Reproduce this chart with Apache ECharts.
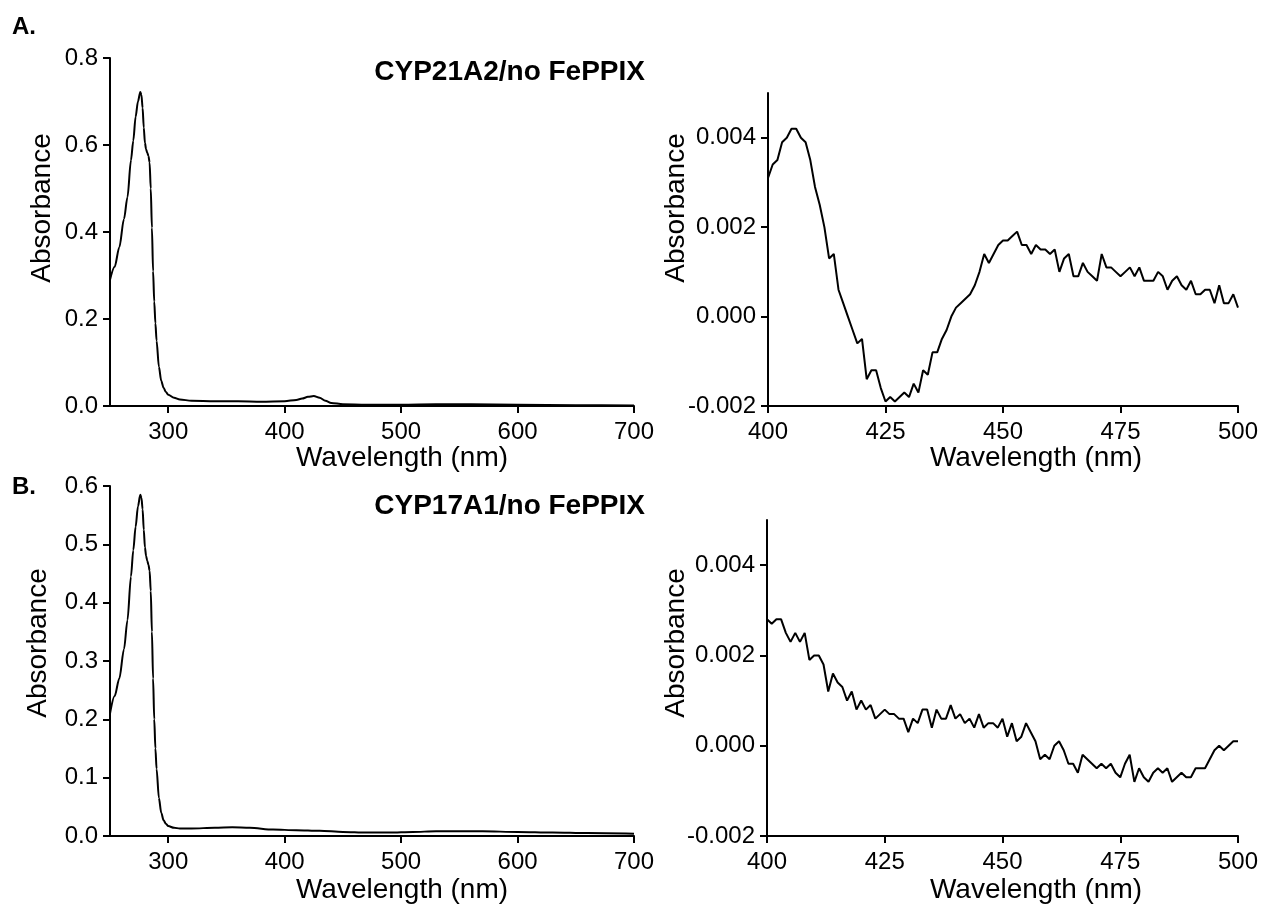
<!DOCTYPE html>
<html lang="en">
<head>
    <meta charset="UTF-8">
    <title>CYP spectra</title>
    <script src="https://cdn.jsdelivr.net/npm/echarts@6.0.0/dist/echarts.min.js"></script>
    <style>
        html, body { margin: 0; padding: 0; background: #fff; }
        #container { width: 1263px; height: 909px; }
    </style>
</head>
<body>
    <div id="container"></div>
    <script>
        // full spectra, panel A (CYP21A2) and panel B (CYP17A1)
        var wlA = [250, 254, 258, 262, 265, 268, 270, 272, 274, 276, 277, 278, 279, 280, 281, 282, 283, 284, 285, 286, 287, 288, 289, 290, 292, 294, 296, 298, 300, 305, 310, 320, 340, 360, 380, 400, 410, 415, 420, 425, 430, 435, 440, 450, 470, 500, 530, 560, 600, 650, 700];
        var absA = [0.29, 0.32, 0.365, 0.43, 0.48, 0.565, 0.61, 0.665, 0.70, 0.722, 0.715, 0.685, 0.64, 0.605, 0.59, 0.582, 0.575, 0.56, 0.50, 0.41, 0.31, 0.24, 0.19, 0.15, 0.09, 0.058, 0.042, 0.032, 0.026, 0.019, 0.015, 0.012, 0.011, 0.011, 0.010, 0.011, 0.014, 0.017, 0.021, 0.023, 0.019, 0.012, 0.007, 0.004, 0.003, 0.003, 0.004, 0.004, 0.003, 0.002, 0.001];

        var wlB = [250, 254, 258, 262, 265, 268, 270, 272, 274, 276, 277, 278, 279, 280, 281, 282, 283, 284, 285, 286, 287, 288, 289, 290, 292, 294, 296, 298, 300, 305, 310, 320, 340, 355, 370, 390, 410, 430, 450, 470, 490, 510, 530, 550, 570, 600, 630, 660, 700];
        var absB = [0.21, 0.24, 0.27, 0.32, 0.37, 0.445, 0.49, 0.53, 0.565, 0.585, 0.58, 0.56, 0.525, 0.495, 0.48, 0.472, 0.465, 0.455, 0.42, 0.35, 0.27, 0.20, 0.15, 0.115, 0.065, 0.04, 0.027, 0.021, 0.017, 0.014, 0.013, 0.013, 0.014, 0.015, 0.014, 0.011, 0.010, 0.009, 0.007, 0.006, 0.006, 0.007, 0.008, 0.008, 0.008, 0.007, 0.006, 0.005, 0.004];

        // 400-500 nm close-ups, 1 nm steps
        var zoomStart = 400;
        var zoomA = [0.0031, 0.0034, 0.0035, 0.0039, 0.0040, 0.0042, 0.0042, 0.0040, 0.0039, 0.0035,
            0.0029, 0.0025, 0.0020, 0.0013, 0.0014, 0.0006, 0.0003, 0.0000, -0.0003, -0.0006,
            -0.0005, -0.0014, -0.0012, -0.0012, -0.0016, -0.0019, -0.0018, -0.0019, -0.0018, -0.0017,
            -0.0018, -0.0015, -0.0017, -0.0012, -0.0013, -0.0008, -0.0008, -0.0005, -0.0003, 0.0000,
            0.0002, 0.0003, 0.0004, 0.0005, 0.0007, 0.0010, 0.0014, 0.0012, 0.0014, 0.0016,
            0.0017, 0.0017, 0.0018, 0.0019, 0.0016, 0.0016, 0.0014, 0.0016, 0.0015, 0.0015,
            0.0014, 0.0015, 0.0010, 0.0013, 0.0014, 0.0009, 0.0009, 0.0012, 0.0010, 0.0009,
            0.0008, 0.0014, 0.0011, 0.0011, 0.0010, 0.0009, 0.0010, 0.0011, 0.0009, 0.0011,
            0.0008, 0.0008, 0.0008, 0.0010, 0.0009, 0.0006, 0.0008, 0.0009, 0.0007, 0.0006,
            0.0008, 0.0005, 0.0005, 0.0006, 0.0006, 0.0003, 0.0007, 0.0003, 0.0003, 0.0005,
            0.0002];
        var zoomB = [0.0028, 0.0027, 0.0028, 0.0028, 0.0025, 0.0023, 0.0025, 0.0023, 0.0025, 0.0019,
            0.0020, 0.0020, 0.0018, 0.0012, 0.0016, 0.0014, 0.0013, 0.0010, 0.0012, 0.0008,
            0.0010, 0.0008, 0.0009, 0.0006, 0.0007, 0.0008, 0.0007, 0.0007, 0.0006, 0.0006,
            0.0003, 0.0006, 0.0005, 0.0008, 0.0008, 0.0004, 0.0008, 0.0006, 0.0006, 0.0009,
            0.0006, 0.0007, 0.0005, 0.0006, 0.0004, 0.0007, 0.0004, 0.0005, 0.0005, 0.0004,
            0.0006, 0.0002, 0.0005, 0.0001, 0.0002, 0.0005, 0.0003, 0.0001, -0.0003, -0.0002,
            -0.0003, 0.0000, 0.0001, -0.0001, -0.0004, -0.0004, -0.0006, -0.0002, -0.0003, -0.0004,
            -0.0005, -0.0004, -0.0005, -0.0004, -0.0006, -0.0007, -0.0004, -0.0002, -0.0008, -0.0005,
            -0.0007, -0.0008, -0.0006, -0.0005, -0.0006, -0.0005, -0.0008, -0.0007, -0.0006, -0.0007,
            -0.0007, -0.0005, -0.0005, -0.0005, -0.0003, -0.0001, 0.0000, -0.0001, 0.0000, 0.0001,
            0.0001];

        var fullTicks = [300, 400, 500, 600, 700];
        var zoomTicks = [400, 425, 450, 475, 500];
        var ticksA = [0, 0.2, 0.4, 0.6, 0.8];
        var ticksB = [0, 0.1, 0.2, 0.3, 0.4, 0.5, 0.6];
        var ticksZoom = [-0.002, 0, 0.002, 0.004];

        var font = '"Liberation Sans", Arial, sans-serif';

        function pairs(xs, ys) {
            var out = [];
            for (var i = 0; i < ys.length; i++) out.push([xs[i], ys[i]]);
            return out;
        }
        function steps(start, ys) {
            var out = [];
            for (var i = 0; i < ys.length; i++) out.push([start + i, ys[i]]);
            return out;
        }

        function xAxisOf(idx, min, max, ticks) {
            return {
                type: 'value', gridIndex: idx, min: min, max: max,
                axisLine: { show: true, onZero: false, lineStyle: { color: '#000', width: 2 } },
                axisTick: { show: true, length: 7, customValues: ticks, lineStyle: { color: '#000', width: 2 } },
                axisLabel: { customValues: ticks, color: '#000', fontSize: 24, fontFamily: font, margin: 14 },
                splitLine: { show: false }
            };
        }
        function yAxisOf(idx, min, max, ticks, digits) {
            return {
                type: 'value', gridIndex: idx, min: min, max: max,
                axisLine: { show: true, onZero: false, lineStyle: { color: '#000', width: 2 } },
                axisTick: { show: true, length: 7, customValues: ticks, lineStyle: { color: '#000', width: 2 } },
                axisLabel: {
                    customValues: ticks, color: '#000', fontSize: 24, fontFamily: font, margin: 12,
                    formatter: function (v) { return (Math.abs(v) < 1e-9 ? 0 : v).toFixed(digits); }
                },
                splitLine: { show: false }
            };
        }
        function lineOf(idx, data, smooth) {
            return {
                type: 'line', xAxisIndex: idx, yAxisIndex: idx, data: data,
                showSymbol: false, smooth: smooth, smoothMonotone: smooth ? 'x' : undefined,
                lineStyle: { color: '#000', width: 2 }, silent: true, animation: false
            };
        }
        function txt(s, x, y, size, bold, rot, align) {
            return {
                type: 'text', x: x, y: y, rotation: rot || 0,
                style: {
                    text: s, fill: '#000', font: (bold ? 'bold ' : '') + size + 'px ' + font,
                    align: align || 'center', verticalAlign: 'middle'
                }
            };
        }

        var myChart = echarts.init(document.getElementById('container'));
        myChart.setOption({
            backgroundColor: '#fff',
            animation: false,
            grid: [
                { left: 110, right: 629, top: 58, bottom: 503 },
                { left: 768, right: 25, top: 93, bottom: 503 },
                { left: 110, right: 629, top: 486, bottom: 73 },
                { left: 767, right: 25, top: 520, bottom: 73 }
            ],
            xAxis: [
                xAxisOf(0, 250, 700, fullTicks),
                xAxisOf(1, 400, 500, zoomTicks),
                xAxisOf(2, 250, 700, fullTicks),
                xAxisOf(3, 400, 500, zoomTicks)
            ],
            yAxis: [
                yAxisOf(0, 0, 0.8, ticksA, 1),
                yAxisOf(1, -0.002, 0.005, ticksZoom, 3),
                yAxisOf(2, 0, 0.6, ticksB, 1),
                yAxisOf(3, -0.002, 0.005, ticksZoom, 3)
            ],
            series: [
                lineOf(0, pairs(wlA, absA), 0.3),
                lineOf(1, steps(zoomStart, zoomA), false),
                lineOf(2, pairs(wlB, absB), 0.3),
                lineOf(3, steps(zoomStart, zoomB), false)
            ],
            graphic: [
                txt('A.', 12, 27, 24, true, 0, 'left'),
                txt('B.', 12, 487, 24, true, 0, 'left'),
                txt('CYP21A2/no FePPIX', 645, 72, 28, true, 0, 'right'),
                txt('CYP17A1/no FePPIX', 645, 506, 28, true, 0, 'right'),
                txt('Absorbance', 42, 208, 28, false, Math.PI / 2),
                txt('Absorbance', 676, 208, 28, false, Math.PI / 2),
                txt('Absorbance', 38, 643, 28, false, Math.PI / 2),
                txt('Absorbance', 676, 643, 28, false, Math.PI / 2),
                txt('Wavelength (nm)', 402, 458, 28, false),
                txt('Wavelength (nm)', 1036, 458, 28, false),
                txt('Wavelength (nm)', 402, 890, 28, false),
                txt('Wavelength (nm)', 1036, 890, 28, false)
            ]
        });
    </script>
</body>
</html>
